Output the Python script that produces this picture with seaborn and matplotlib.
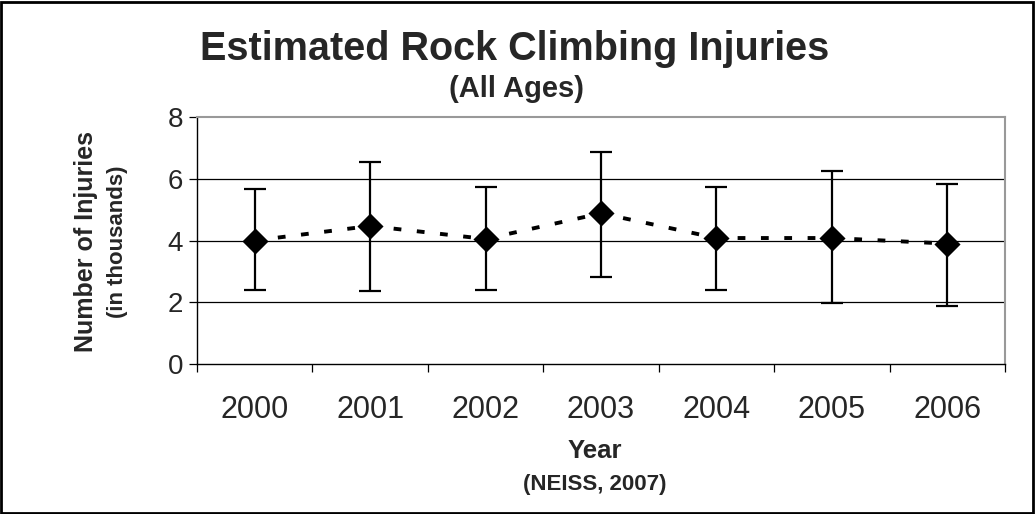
import matplotlib
matplotlib.use("Agg")
import matplotlib.pyplot as plt
import matplotlib.patches as patches
import numpy as np
import pandas as pd
import seaborn as sns

years = ["2000", "2001", "2002", "2003", "2004", "2005", "2006"]
injuries = [4.00, 4.47, 4.05, 4.88, 4.08, 4.08, 3.90]
upper = [5.68, 6.55, 5.73, 6.88, 5.73, 6.25, 5.84]
lower = [2.41, 2.35, 2.41, 2.81, 2.41, 1.96, 1.89]
y_ticks = [0, 2, 4, 6, 8]

sns.set_style("white")
plt.rcParams["font.family"] = ["Liberation Sans", "DejaVu Sans"]

df = pd.DataFrame({"year": years, "injuries": injuries})

fig = plt.figure(figsize = (10.35, 5.14), dpi = 100)
ax = fig.add_axes([0.1903, 0.2918, 0.7807, 0.4806])

sns.pointplot(data = df, x = "year", y = "injuries", color = "black", markers = "D",
              linestyles = "--", markersize = 11, linewidth = 2.8, errorbar = None, ax = ax, zorder = 3)
for l in ax.lines:
    l.set_dashes([2.0, 4.0])

pos = np.arange(len(years))
yerr = [np.array(injuries) - np.array(lower), np.array(upper) - np.array(injuries)]
ax.errorbar(pos, injuries, yerr = yerr, fmt = "none", ecolor = "black", elinewidth = 1.6,
            capsize = 8, capthick = 1.6, zorder = 2)

ax.set_ylim(0, 8)
ax.set_xlim(-0.5, len(years) - 0.5)
ax.set_yticks(y_ticks)
ax.set_yticklabels([str(t) for t in y_ticks], fontsize = 20)
for t in y_ticks[1:-1]:
    ax.axhline(t, color = "black", linewidth = 0.9, zorder = 1)

ax.set_xticks(np.arange(-0.5, len(years), 1.0))
ax.set_xticklabels([])
ax.set_xticks(pos, minor = True)
ax.set_xticklabels(years, minor = True, fontsize = 22)
ax.tick_params(axis = "x", which = "major", direction = "out", length = 6, width = 0.9, color = "black", bottom = True)
ax.tick_params(axis = "x", which = "minor", length = 0, pad = 22)
ax.tick_params(axis = "y", direction = "out", length = 6, width = 0.9, color = "black", left = True, pad = 4)
ax.set_xlabel("")
ax.set_ylabel("")

for side in ["top", "right"]:
    ax.spines[side].set_color("#999999")
    ax.spines[side].set_linewidth(1.5)
for side in ["left", "bottom"]:
    ax.spines[side].set_color("black")
    ax.spines[side].set_linewidth(1.0)

fig.text(0.497, 0.905, "Estimated Rock Climbing Injuries", ha = "center", va = "center",
         fontsize = 28.5, fontweight = "bold")
fig.text(0.499, 0.826, "(All Ages)", ha = "center", va = "center", fontsize = 21, fontweight = "bold")
fig.text(0.083, 0.53, "Number of Injuries", ha = "center", va = "center", rotation = 90,
         fontsize = 18, fontweight = "bold")
fig.text(0.114, 0.53, "(in thousands)", ha = "center", va = "center", rotation = 90,
         fontsize = 16, fontweight = "bold")
fig.text(0.575, 0.123, "Year", ha = "center", va = "center", fontsize = 18.5, fontweight = "bold")
fig.text(0.575, 0.058, "(NEISS, 2007)", ha = "center", va = "center", fontsize = 16, fontweight = "bold")

fig.patches.append(patches.Rectangle((0.001, 0.002), 0.997, 0.995, transform = fig.transFigure,
                                     fill = False, edgecolor = "black", linewidth = 2))

fig.savefig("out.png", dpi = 100)
